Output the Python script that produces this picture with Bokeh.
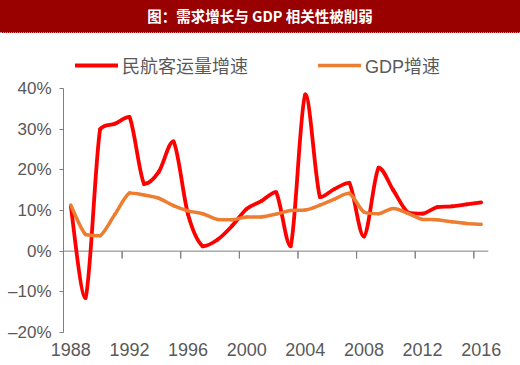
from bokeh.plotting import figure
from bokeh.layouts import column
from bokeh.models import (LinearAxis, FixedTicker, Legend, LegendItem, Div,
                          ColumnDataSource)
from bokeh.embed import file_html
from bokeh.resources import INLINE

# ---- data ----
years = list(range(1988, 2017))
air_growth = [11.0, -11.5, 30.0, 31.3, 33.0, 16.5, 19.5, 27.0, 9.0, 1.2,
              2.8, 6.2, 10.4, 12.3, 14.5, 1.2, 38.5, 13.3, 15.3, 16.8,
              3.6, 20.5, 15.0, 9.5, 9.2, 10.8, 11.0, 11.5, 12.0]
gdp_growth = [11.3, 4.1, 3.8, 9.0, 14.3, 13.8, 13.0, 11.2, 9.9, 9.2,
              7.8, 7.7, 8.4, 8.4, 9.1, 10.0, 10.1, 11.3, 12.8, 14.2,
              9.6, 9.2, 10.5, 9.3, 7.8, 7.7, 7.2, 6.8, 6.6]
x_labels = [1988, 1992, 1996, 2000, 2004, 2008, 2012, 2016]
y_ticks = [-20, -10, 0, 10, 20, 30, 40]
title_text = "图：需求增长与 GDP 相关性被削弱"
name_air = "民航客运量增速"
name_gdp = "GDP增速"

RED = "#FF0000"
ORANGE = "#ED7D31"
GRAY_AX = "#7F7F7F"
GRAY_TXT = "#595959"
LAT = "Liberation Sans, Noto Sans CJK SC"
TICK_LEN = 1.8  # length of the zero-line tick marks, in y units (~7px)


def smooth_segments(xs, ys):
    """Bezier control points for a smoothed line (no overshoot between points)."""
    n = len(xs)
    d = dict(x0=[], y0=[], x1=[], y1=[], cx0=[], cy0=[], cx1=[], cy1=[])
    for i in range(n - 1):
        xp, yp = (xs[i - 1], ys[i - 1]) if i > 0 else (xs[i], ys[i])
        xn, yn = (xs[i + 2], ys[i + 2]) if i + 2 < n else (xs[i + 1], ys[i + 1])
        lo, hi = min(ys[i], ys[i + 1]), max(ys[i], ys[i + 1])
        d["x0"].append(xs[i]); d["y0"].append(ys[i])
        d["x1"].append(xs[i + 1]); d["y1"].append(ys[i + 1])
        d["cx0"].append(xs[i] + (xs[i + 1] - xp) / 6.0)
        d["cy0"].append(min(hi, max(lo, ys[i] + (ys[i + 1] - yp) / 6.0)))
        d["cx1"].append(xs[i + 1] - (xn - xs[i]) / 6.0)
        d["cy1"].append(min(hi, max(lo, ys[i + 1] - (yn - ys[i]) / 6.0)))
    return ColumnDataSource(d)


title_bar = Div(text=title_text, width=520, height=33, margin=0,
                styles={"background-color": "#990000", "color": "white",
                        "text-align": "center", "font-weight": "bold",
                        "font-size": "14.5px", "line-height": "32px",
                        "font-family": "Noto Sans CJK SC",
                        "border-bottom": "1px dotted #A0A0D0",
                        "box-sizing": "border-box"})

x_start, x_end = years[0] - 0.5, years[-1] + 0.5

# frame spans from the top of the figure; axis bounds keep the y axis at -20..40
p = figure(width=520, height=332, x_range=(x_start, x_end),
           y_range=(y_ticks[0], 53.5), output_backend="svg",
           toolbar_location=None, x_axis_location=None,
           min_border_left=63, min_border_right=32, min_border_top=0,
           min_border_bottom=33, margin=0)
p.outline_line_color = None
p.xgrid.visible = False
p.ygrid.visible = False
p.background_fill_color = "white"
p.border_fill_color = "white"

# y axis
ya = p.yaxis[0]
ya.bounds = (y_ticks[0], y_ticks[-1])
ya.ticker = FixedTicker(ticks=y_ticks)
ya.major_label_overrides = {t: (f"{t}%").replace("-", "–") for t in y_ticks}
ya.major_tick_out = 4
ya.major_tick_in = 0
ya.minor_tick_line_color = None
ya.axis_line_color = GRAY_AX
ya.major_tick_line_color = GRAY_AX
ya.major_label_text_color = GRAY_TXT
ya.major_label_text_font = LAT
ya.major_label_text_font_size = "17px"
ya.major_label_standoff = 8

# year labels at the bottom
axl = LinearAxis(ticker=FixedTicker(ticks=x_labels), axis_line_color=None,
                 major_tick_line_color=None, minor_tick_line_color=None,
                 major_label_text_color=GRAY_TXT, major_label_text_font=LAT,
                 major_label_text_font_size="18px", major_label_standoff=4)
p.add_layout(axl, "below")

# horizontal axis line at zero with category-boundary ticks, as one path
tick_pos = [y - 0.5 for y in x_labels[1:]]
axis_x, axis_y = [x_start], [0]
for t in tick_pos:
    axis_x += [t, t, t]
    axis_y += [0, -TICK_LEN, 0]
axis_x.append(x_end)
axis_y.append(0)
p.line(x=axis_x, y=axis_y, line_color=GRAY_AX, line_width=1, line_join="miter")

# series
src_air = smooth_segments(years, air_growth)
src_gdp = smooth_segments(years, gdp_growth)
r_air = p.bezier(x0="x0", y0="y0", x1="x1", y1="y1", cx0="cx0", cy0="cy0", cx1="cx1",
                 cy1="cy1", source=src_air, line_color=RED, line_width=3.8,
                 line_cap="round")
r_gdp = p.bezier(x0="x0", y0="y0", x1="x1", y1="y1", cx0="cx0", cy0="cy0", cx1="cx1",
                 cy1="cy1", source=src_gdp, line_color=ORANGE, line_width=3.5,
                 line_cap="round")

legend = Legend(items=[LegendItem(label=name_air, renderers=[r_air]),
                       LegendItem(label=name_gdp, renderers=[r_gdp])],
                location=(12, 254), orientation="horizontal", glyph_width=43,
                glyph_height=20, label_standoff=4, spacing=70, padding=0, margin=0,
                border_line_color=None, background_fill_alpha=0,
                label_text_font_size="18px", label_text_color=GRAY_TXT,
                label_text_font=LAT)
p.add_layout(legend)

layout = column(title_bar, p, spacing=0, margin=0)
open("out.html", "w").write(file_html(layout, INLINE))
